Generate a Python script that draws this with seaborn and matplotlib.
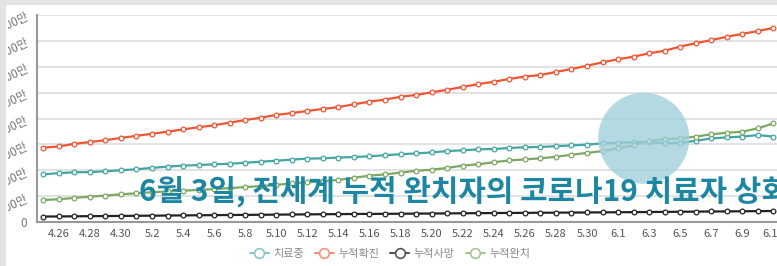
import numpy as np
import pandas as pd
import seaborn as sns
import matplotlib.pyplot as plt
from matplotlib.lines import Line2D
from matplotlib.patches import Rectangle
from matplotlib.transforms import Bbox

# 날짜 (4.25 ~ 6.11)
days = pd.date_range("2020-04-25", "2020-06-11")
dates = [f"{d.month}.{d.day}" for d in days]

# 단위: 만 명
active = [184, 189, 192, 193, 196, 200, 204, 209, 214, 218, 220, 223, 225, 229, 233, 237,
          241, 245, 246, 249, 251, 254, 258, 262, 265, 269, 274, 277, 281, 282, 286, 289,
          290, 293, 296, 299, 304, 306, 309, 309, 304, 306, 314, 323, 327, 330, 336, 330]
confirmed = [287, 292, 302, 309, 316, 325, 333, 341, 349, 358, 366, 374, 384, 394, 403, 414,
             421, 429, 437, 444, 455, 465, 473, 484, 491, 501, 511, 522, 533, 542, 553, 562,
             568, 580, 591, 604, 617, 629, 639, 652, 662, 678, 691, 703, 716, 727, 738, 750]
deaths = [21, 21.5, 22, 22.5, 23, 23.5, 24, 24.5, 25, 25.5, 26, 26.5, 27, 27.5, 28, 28.5,
          29, 29.5, 30, 30.5, 31, 31.3, 31.6, 32, 32.4, 32.8, 33.2, 33.7, 34.2, 34.6, 35, 35.3,
          35.7, 36.1, 36.5, 36.9, 37.3, 37.7, 38.1, 38.6, 39.1, 39.6, 40.1, 40.6, 41, 41.5, 42, 42.5]
recovered = [85, 88, 93, 98, 102, 107, 111, 115, 118, 121, 124, 127, 131, 135, 139, 143,
             150, 153, 157, 163, 171, 179, 184, 191, 198, 202, 209, 218, 223, 231, 238, 242,
             246, 252, 260, 267, 274, 285, 296, 314, 320, 323, 330, 339, 345, 349, 362, 381]

series_names = ["치료중", "누적확진", "누적사망", "누적완치"]
series_colors = ["#44a5a5", "#f05533", "#222222", "#7ba862"]
legend_colors = ["#86c7c7", "#f39279", "#555555", "#a6c694"]
y_ticks = [0, 100, 200, 300, 400, 500, 600, 700, 800]
headline = "6월 3일, 전세계 누적 완치자의 코로나19 치료자 상회"

df = pd.DataFrame({"idx": range(len(dates)), "날짜": dates,
                   "치료중": active, "누적확진": confirmed,
                   "누적사망": deaths, "누적완치": recovered})

sns.set_style("white")
plt.rcParams["font.family"] = ["Noto Sans CJK KR", "DejaVu Sans"]

fig = plt.figure(figsize=(7.77, 2.66), dpi=100)
fig.patch.set_facecolor("#e3e3e3")
fig.add_artist(Rectangle((6 / 777, 0), 1, 1 - 5 / 266, transform=fig.transFigure,
                         facecolor="white", edgecolor="none", zorder=-5))

ax = fig.add_axes([37 / 777, 44 / 266, 752 / 777, 207 / 266])
ax.set_facecolor("white")

for name, col in zip(series_names, series_colors):
    sns.lineplot(data=df, x="idx", y=name, ax=ax, color=col, linewidth=1.6,
                 marker="o", markersize=3.4, mfc="white", mec=col, mew=0.9, zorder=3)

# 교차 지점 강조 원
cross = next(i for i in range(len(dates)) if recovered[i] > active[i])
ax.scatter([cross - 0.35], [(active[cross] + recovered[cross]) / 2 + 12], s=4300,
           color="#9fcfdb", alpha=0.78, edgecolors="none", zorder=4)

ax.set_xlim(-0.4, 48)
ax.set_ylim(0, 800)
ax.set_yticks(y_ticks)
ax.set_yticklabels([("0" if v == 0 else f"{v}만") for v in y_ticks])
ax.grid(axis="y", color="#e2e2e2", linewidth=1.4)
ax.set_axisbelow(True)

ax.set_xticks(range(1, len(dates), 2))
ax.set_xticklabels(dates[1::2])
ax.set_xticks(np.arange(0.5, len(dates), 2), minor=True)
ax.tick_params(axis="x", which="major", length=0, pad=5, labelsize=8, labelcolor="#555555")
ax.tick_params(axis="x", which="minor", length=3, width=1, color="#888888")
ax.tick_params(axis="y", length=3, width=1, color="#888888", pad=4,
               labelsize=8.5, labelcolor="#777777")
# 스크린샷처럼 왼쪽이 잘린 y축 라벨
clip = Bbox.from_extents(8, 0, 777, 266)
for lab in ax.get_yticklabels()[1:]:
    lab.set_rotation(25)
    lab.set_rotation_mode("anchor")
    lab.set_clip_on(True)
    lab.set_clip_box(clip)
ax.set_xlabel("")
ax.set_ylabel("")
for s in ["top", "right"]:
    ax.spines[s].set_visible(False)
for s in ["left", "bottom"]:
    ax.spines[s].set_color("#999999")
    ax.spines[s].set_linewidth(1.5)

ax.text(0.135, 0.104, headline, transform=ax.transAxes, fontsize=21.5,
        fontweight="bold", color="#1d86a2", zorder=6)

handles = [Line2D([], [], color=c, linewidth=1.5, marker="o", markersize=7,
                  mfc="white", mec=c, mew=1.2) for c in legend_colors]
fig.legend(handles, series_names, loc="center", bbox_to_anchor=(390 / 777, 1 - 254 / 266),
           ncol=4, frameon=False, fontsize=8, labelcolor="#888888",
           handlelength=1.7, handletextpad=0.4, columnspacing=1.0)

# 왼쪽 잘린 부분
fig.add_artist(Rectangle((0, 0), 6 / 777, 1, transform=fig.transFigure,
                         facecolor="#e3e3e3", edgecolor="none", zorder=10))

fig.savefig("out.png", dpi=100)
